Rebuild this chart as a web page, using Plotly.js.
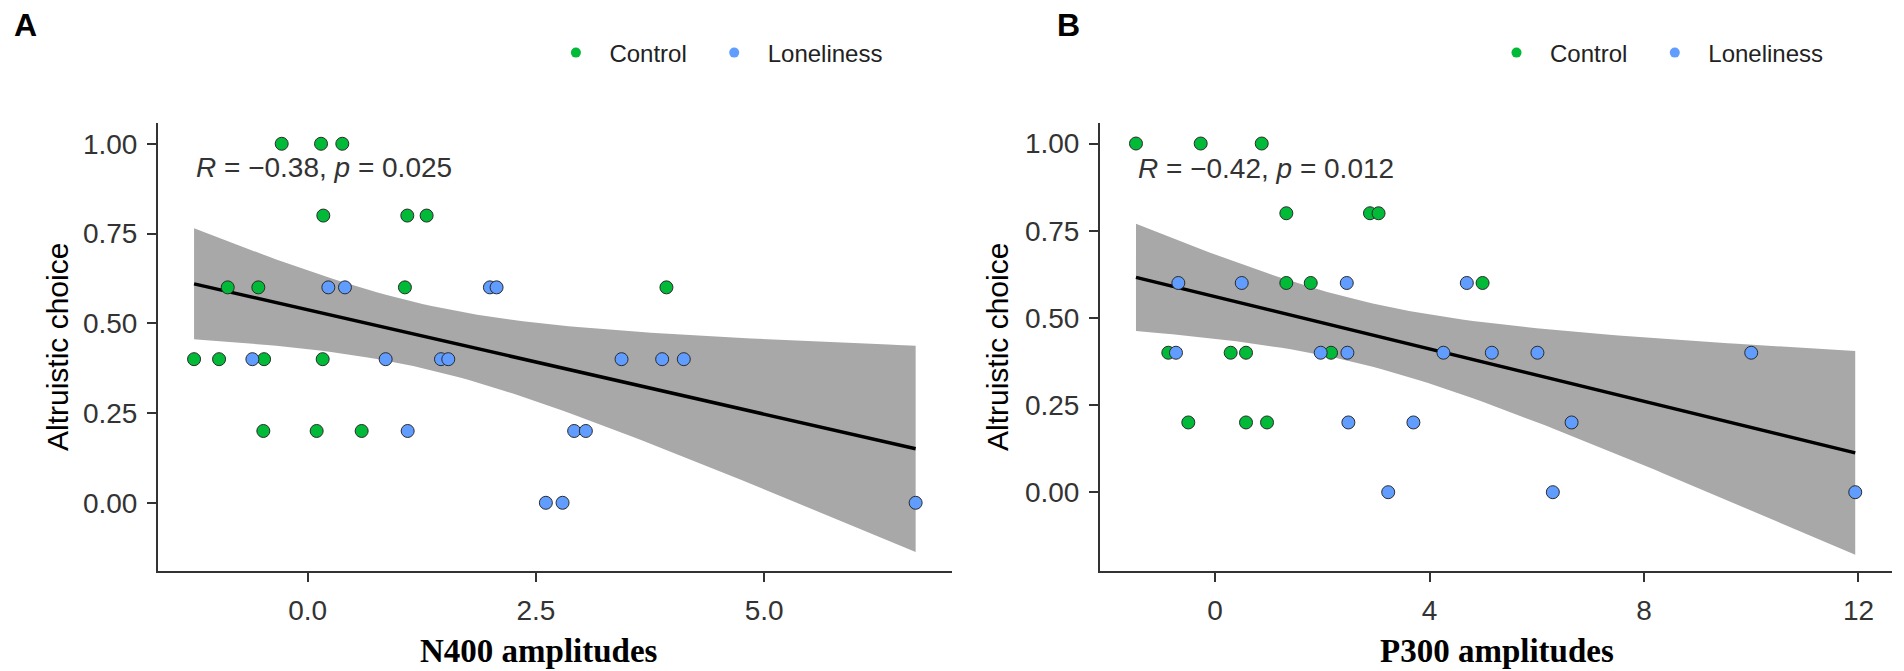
<!DOCTYPE html>
<html>
<head>
<meta charset="utf-8">
<script src="https://cdn.plot.ly/plotly-3.0.1.min.js"></script>
<style>html,body{margin:0;padding:0;background:#fff;}#chart{width:1904px;height:671px;}</style>
</head>
<body>
<div id="chart"></div>
<script>
// ---------- data ----------
const groups = ["Control", "Loneliness"];
const groupColors = ["#00BA38", "#619CFF"];

// Panel A: N400 amplitudes vs altruistic choice
const n400Control = [-0.285, 0.146, 0.379, 0.171, 1.091, 1.303, -0.876, -0.541, 1.065, 3.93, -1.245, -0.971, -0.478, 0.164, -0.486, 0.098, 0.591];
const altN400Control = [1, 1, 1, 0.8, 0.8, 0.8, 0.6, 0.6, 0.6, 0.6, 0.4, 0.4, 0.4, 0.4, 0.2, 0.2, 0.2];
const n400Lonely = [0.226, 0.408, 1.996, 2.069, -0.606, 0.854, 1.46, 1.54, 3.438, 3.883, 4.12, 1.095, 2.919, 3.047, 2.609, 2.792, 6.66];
const altN400Lonely = [0.6, 0.6, 0.6, 0.6, 0.4, 0.4, 0.4, 0.4, 0.4, 0.4, 0.4, 0.2, 0.2, 0.2, 0, 0, 0];

// Panel B: P300 amplitudes vs altruistic choice
const p300Control = [-1.474, -0.267, 0.871, 1.33, 2.89, 3.05, 1.33, 1.785, 4.99, -0.871, 0.292, 0.578, 2.164, -0.498, 0.578, 0.97];
const altP300Control = [1, 1, 1, 0.8, 0.8, 0.8, 0.6, 0.6, 0.6, 0.4, 0.4, 0.4, 0.4, 0.2, 0.2, 0.2];
const p300Lonely = [-0.684, 0.498, 2.457, 4.696, -0.728, 1.971, 2.469, 4.26, 5.162, 6.013, 10.0, 2.487, 3.70, 6.65, 3.23, 6.30, 11.94];
const altP300Lonely = [0.6, 0.6, 0.6, 0.6, 0.4, 0.4, 0.4, 0.4, 0.4, 0.4, 0.4, 0.2, 0.2, 0.2, 0, 0, 0];

const corrLabels = ["<i>R</i> = −0.38, <i>p</i> = 0.025", "<i>R</i> = −0.42, <i>p</i> = 0.012"];
const xTitles = ["N400 amplitudes", "P300 amplitudes"];
const yTitle = "Altruistic choice";
const panelLetters = ["A", "B"];
const yTickVals = [0, 0.25, 0.5, 0.75, 1];
const yTickText = ["0.00", "0.25", "0.50", "0.75", "1.00"];
const xTickValsA = [0, 2.5, 5];
const xTickTextA = ["0.0", "2.5", "5.0"];
const xTickValsB = [0, 4, 8, 12];
const xTickTextB = ["0", "4", "8", "12"];

// ---------- linear fit with 95% confidence band (like geom_smooth(method = "lm")) ----------
function tQuant(df) {
  const z = 1.959964;
  return z + (z ** 3 + z) / (4 * df) + (5 * z ** 5 + 16 * z ** 3 + 3 * z) / (96 * df * df)
    + (3 * z ** 7 + 19 * z ** 5 + 17 * z ** 3 - 15 * z) / (384 * df ** 3);
}
function lmFit(xs, ys) {
  const n = xs.length;
  const mx = xs.reduce((a, b) => a + b, 0) / n;
  const my = ys.reduce((a, b) => a + b, 0) / n;
  let sxx = 0, sxy = 0;
  for (let i = 0; i < n; i++) { sxx += (xs[i] - mx) ** 2; sxy += (xs[i] - mx) * (ys[i] - my); }
  const b = sxy / sxx, a = my - b * mx;
  let rss = 0;
  for (let i = 0; i < n; i++) rss += (ys[i] - a - b * xs[i]) ** 2;
  const s = Math.sqrt(rss / (n - 2));
  const t = tQuant(n - 2);
  const lo = Math.min(...xs), hi = Math.max(...xs);
  const gx = [], gy = [], up = [], dn = [];
  for (let k = 0; k < 80; k++) {
    const x = lo + (hi - lo) * k / 79;
    const yh = a + b * x;
    const se = s * Math.sqrt(1 / n + (x - mx) ** 2 / sxx);
    gx.push(x); gy.push(yh); up.push(yh + t * se); dn.push(yh - t * se);
  }
  return { gx, gy, up, dn, lo };
}

const panels = [
  { xa: "x", ya: "y", legs: ["legend", "legend2"], cx: n400Control, cy: altN400Control, lx: n400Lonely, ly: altN400Lonely },
  { xa: "x2", ya: "y2", legs: ["legend3", "legend4"], cx: p300Control, cy: altP300Control, lx: p300Lonely, ly: altP300Lonely }
];

const traces = [];
const fits = [];
panels.forEach((p, i) => {
  const allX = p.cx.concat(p.lx), allY = p.cy.concat(p.ly);
  const f = lmFit(allX, allY);
  fits.push(f);
  traces.push({
    x: f.gx.concat(f.gx.slice().reverse()), y: f.up.concat(f.dn.slice().reverse()),
    xaxis: p.xa, yaxis: p.ya, type: "scatter", mode: "lines", fill: "toself",
    fillcolor: "#A8A8A8", line: { width: 0, color: "rgba(0,0,0,0)" }, showlegend: false, hoverinfo: "skip"
  });
  traces.push({
    x: f.gx, y: f.gy, xaxis: p.xa, yaxis: p.ya, type: "scatter", mode: "lines",
    line: { color: "#000", width: 3.5 }, showlegend: false
  });
  [[p.cx, p.cy], [p.lx, p.ly]].forEach((d, g) => {
    traces.push({
      x: d[0], y: d[1], xaxis: p.xa, yaxis: p.ya, type: "scatter", mode: "markers",
      marker: { color: groupColors[g], size: 13, line: { color: "#2b2b2b", width: 1 } },
      showlegend: false, name: groups[g]
    });
  });
  groups.forEach((gname, g) => {
    traces.push({
      x: [null], y: [null], xaxis: p.xa, yaxis: p.ya, type: "scatter", mode: "markers",
      marker: { color: groupColors[g], size: 10 }, name: gname, legend: p.legs[g], showlegend: true
    });
  });
});

const W = 1904, H = 671;
const px = v => v / W, py = v => 1 - v / H;
const tickFont = { family: "Liberation Sans, Arial, sans-serif", size: 28, color: "#333" };
function xAxis(dom, range, vals, text, anchor) {
  return {
    domain: dom, range: range, anchor: anchor, tickmode: "array", tickvals: vals, ticktext: text,
    showline: true, linecolor: "#333", linewidth: 2, ticks: "outside", ticklen: 9, tickwidth: 2, tickcolor: "#333",
    showgrid: false, zeroline: false, tickfont: tickFont, ticklabelstandoff: 4, fixedrange: true
  };
}
function yAxis(range, anchor) {
  return {
    domain: [py(571), py(123.3)], range: range, anchor: anchor, tickmode: "array", tickvals: yTickVals, ticktext: yTickText,
    showline: true, linecolor: "#333", linewidth: 2, ticks: "outside", ticklen: 9, tickwidth: 2, tickcolor: "#333",
    showgrid: false, zeroline: false, tickfont: tickFont, ticklabelstandoff: 4, fixedrange: true
  };
}

const legendBase = {
  orientation: "h", xanchor: "left", yanchor: "middle", y: py(53), itemwidth: 57,
  font: { family: "Liberation Sans, Arial, sans-serif", size: 24, color: "#222" }, bgcolor: "rgba(0,0,0,0)", borderwidth: 0
};

const annFont = { family: "Liberation Sans, Arial, sans-serif", size: 28, color: "#333" };
const letterFont = { family: "Liberation Sans, Arial, sans-serif", size: 32, color: "#000" };
const yTitleFont = { family: "Liberation Sans, Arial, sans-serif", size: 30, color: "#000" };
const xTitleFont = { family: "Liberation Serif, Times New Roman, serif", size: 33, color: "#000" };
const annotations = [
  { text: "<b>" + panelLetters[0] + "</b>", xref: "paper", yref: "paper", x: px(12), y: py(25), xanchor: "left", yanchor: "middle", showarrow: false, font: letterFont },
  { text: "<b>" + panelLetters[1] + "</b>", xref: "paper", yref: "paper", x: px(1055), y: py(25), xanchor: "left", yanchor: "middle", showarrow: false, font: letterFont },
  { text: yTitle, textangle: -90, xref: "paper", yref: "paper", x: px(58), y: py(347), xanchor: "center", yanchor: "middle", showarrow: false, font: yTitleFont },
  { text: yTitle, textangle: -90, xref: "paper", yref: "paper", x: px(998), y: py(347), xanchor: "center", yanchor: "middle", showarrow: false, font: yTitleFont },
  { text: "<b>" + xTitles[0] + "</b>", xref: "paper", yref: "paper", x: px(539), y: py(651), xanchor: "center", yanchor: "middle", showarrow: false, font: xTitleFont },
  { text: "<b>" + xTitles[1] + "</b>", xref: "paper", yref: "paper", x: px(1497), y: py(651), xanchor: "center", yanchor: "middle", showarrow: false, font: xTitleFont },
  { text: corrLabels[0], xref: "x", yref: "y", x: fits[0].lo, y: 0.935, xanchor: "left", yanchor: "middle", showarrow: false, font: annFont },
  { text: corrLabels[1], xref: "x2", yref: "y2", x: fits[1].lo, y: 0.928, xanchor: "left", yanchor: "middle", showarrow: false, font: annFont }
];

const layout = {
  width: W, height: H, autosize: false,
  margin: { l: 0, r: 0, t: 0, b: 0 },
  paper_bgcolor: "#fff", plot_bgcolor: "#fff",
  xaxis: xAxis([px(158), px(951.7)], [-1.64, 7.055], xTickValsA, xTickTextA, "y"),
  yaxis: yAxis([-0.19, 1.057], "x"),
  xaxis2: xAxis([px(1100), px(1891.7)], [-2.145, 12.62], xTickValsB, xTickTextB, "y2"),
  yaxis2: yAxis([-0.226, 1.058], "x2"),
  legend: Object.assign({}, legendBase, { x: px(542.4) }),
  legend2: Object.assign({}, legendBase, { x: px(700.7) }),
  legend3: Object.assign({}, legendBase, { x: px(1483) }),
  legend4: Object.assign({}, legendBase, { x: px(1641.3) }),
  annotations: annotations,
  showlegend: true
};

Plotly.newPlot("chart", traces, layout, { staticPlot: true, displayModeBar: false });
</script>
</body>
</html>
